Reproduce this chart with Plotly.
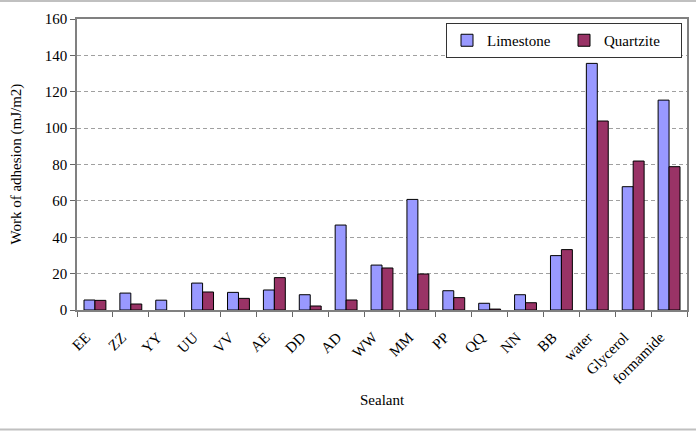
import plotly.graph_objects as go

categories = ["EE", "ZZ", "YY", "UU", "VV", "AE", "DD", "AD", "WW", "MM", "PP", "QQ", "NN", "BB", "water", "Glycerol", "formamide"]
limestone = [5.5, 9.3, 5.4, 14.8, 9.7, 11.0, 8.4, 46.7, 24.7, 60.8, 10.6, 3.7, 8.4, 29.9, 135.6, 67.8, 115.4]
quartzite = [5.3, 3.3, None, 9.9, 6.4, 17.8, 2.2, 5.5, 23.1, 19.8, 6.8, 0.5, 4.0, 33.2, 103.9, 81.9, 78.8]
y_ticks = [0, 20, 40, 60, 80, 100, 120, 140, 160]

W, H = 696, 431
L, R, T, B = 77, 9, 19, 121
pw, ph = W - L - R, H - T - B

fig = go.Figure()
fig.add_trace(go.Bar(name="Limestone", x=categories, y=limestone,
                     marker=dict(color="#9999ff", line=dict(color="#000000", width=1))))
fig.add_trace(go.Bar(name="Quartzite", x=categories, y=quartzite,
                     marker=dict(color="#993366", line=dict(color="#000000", width=1))))

font_family = "Liberation Serif"
fs = 15
fig.update_layout(
    width=W, height=H,
    margin=dict(l=L, r=R, t=T, b=B, autoexpand=False),
    paper_bgcolor="white", plot_bgcolor="white",
    barmode="group", bargap=0.39, bargroupgap=0,
    font=dict(family=font_family, size=fs, color="black"),
    showlegend=True,
    legend=dict(orientation="h", x=(682 - L) / pw, y=(H - B - 23) / ph,
                xanchor="right", yanchor="top", itemwidth=30,
                bgcolor="white", bordercolor="#333", borderwidth=1,
                entrywidth=72, font=dict(size=fs, family=font_family)),
    xaxis=dict(type="category", tickangle=-45, ticks="outside", tickson="boundaries",
               ticklen=5, tickcolor="#666", showline=True, linecolor="#808080", mirror=True,
               linewidth=1.5, ticklabelstandoff=11, ticklabelshift=-9,
               tickfont=dict(size=fs, family=font_family), showgrid=False, automargin=False),
    yaxis=dict(range=[0, 160], tickvals=y_ticks, ticks="outside", ticklen=5, tickcolor="#666",
               showline=True, linecolor="#808080", mirror=True, linewidth=1.5,
               showgrid=True, gridcolor="#a0a0a0", griddash="4px,3px", gridwidth=1,
               tickfont=dict(size=fs, family=font_family), zeroline=False, automargin=False),
    annotations=[
        dict(text="Sealant", xref="paper", yref="paper", x=0.5, y=-(400 - (H - B)) / ph,
             showarrow=False, xanchor="center", yanchor="middle", font=dict(size=fs)),
        dict(text="Work of adhesion (mJ/m2)", xref="paper", yref="paper", x=-(L - 16) / pw,
             y=0.5, textangle=-90, showarrow=False, xanchor="center", yanchor="middle",
             font=dict(size=fs)),
    ],
    shapes=[
        dict(type="line", xref="paper", yref="paper",
             x0=-L / pw, x1=1 + R / pw, y0=1 + (T - 1) / ph, y1=1 + (T - 1) / ph,
             line=dict(color="#c0c0c0", width=2), layer="below"),
        dict(type="line", xref="paper", yref="paper",
             x0=-L / pw, x1=1 + R / pw, y0=-(B - 1.5) / ph, y1=-(B - 1.5) / ph,
             line=dict(color="#c0c0c0", width=2), layer="below"),
    ],
)
fig.write_html("out.html")
